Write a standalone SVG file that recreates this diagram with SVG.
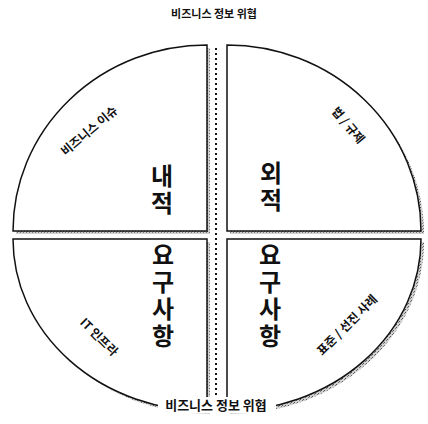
<svg xmlns="http://www.w3.org/2000/svg" width="428" height="424" viewBox="0 0 428 424">
<defs>
<pattern id="dither" width="3" height="3" patternUnits="userSpaceOnUse">
<rect width="3" height="3" fill="#d0d0d0"/>
<rect width="1" height="1" fill="#555"/>
<rect x="2" y="1" width="1" height="1" fill="#777"/>
</pattern>
</defs>
<style>
.q{fill:#fff;stroke:#111;stroke-width:1.5}
.sh{fill:url(#dither);stroke:none}
.big{font-family:"Noto Sans CJK KR","Noto Sans",sans-serif;font-size:24px;font-weight:bold;fill:#111;writing-mode:vertical-rl;text-orientation:upright;letter-spacing:3px}
.sm{font-family:"Noto Sans CJK KR","Noto Sans",sans-serif;font-size:12px;font-weight:bold;fill:#111;text-anchor:middle}
.ttl{font-family:"Noto Sans CJK KR","Noto Sans",sans-serif;font-weight:bold;fill:#111;text-anchor:middle}
</style>
<rect width="428" height="424" fill="#fff"/>
<text class="ttl" x="214" y="18" font-size="11">비즈니스 정보 위협</text>

<g id="q-tl">
<path class="sh" d="M210,234 L16,234 A194,186 0 0 1 210,48 Z"/>
<path class="q" d="M207,231 L13,231 A194,186 0 0 1 207,45 Z"/>
<text class="sm" transform="translate(92,134) rotate(-40)">비즈니스 이슈</text>
<text class="big" x="162" y="164">내적</text>
</g>

<g id="q-tr">
<path class="sh" d="M230,234 L230,48 A194,186 0 0 1 424,234 Z"/>
<path class="q" d="M227,231 L227,45 A194,186 0 0 1 421,231 Z"/>
<text class="sm" transform="translate(345,128) rotate(50)">법 / 규제</text>
<text class="big" x="271" y="161">외적</text>
</g>

<g id="q-bl">
<path class="sh" d="M210,242 L16,242 A194,172 0 0 0 210,414 Z"/>
<path class="q" d="M207,239 L13,239 A194,172 0 0 0 207,411 Z"/>
<text class="sm" transform="translate(96,340) rotate(45)">IT 인프라</text>
</g>

<g id="q-br">
<path class="sh" d="M230,242 L424,242 A194,172 0 0 1 230,414 Z"/>
<path class="q" d="M227,239 L421,239 A194,172 0 0 1 227,411 Z"/>
<text class="sm" transform="translate(350,328) rotate(-45)">표준 / 선진 사례</text>
</g>

<g id="req-left">
<text class="big" x="163" y="243">요구사항</text>
</g>
<g id="req-right">
<text class="big" x="270" y="243">요구사항</text>
</g>

<g id="connectors">
<line x1="216" y1="48" x2="216" y2="398" stroke="#111" stroke-width="2" stroke-dasharray="2 3"/>
</g>

<g id="bottom-title">
<rect x="158" y="397" width="118" height="16" fill="#fff"/>
<text class="ttl" x="216" y="410" font-size="13">비즈니스 정보 위협</text>
</g>
</svg>
